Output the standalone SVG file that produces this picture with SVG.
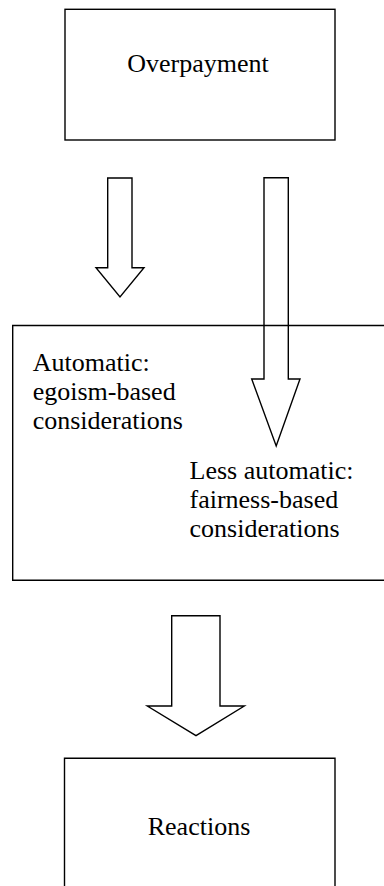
<svg xmlns="http://www.w3.org/2000/svg" width="384" height="886" viewBox="0 0 384 886">
  <style>
    .box { fill: none; stroke: #000; stroke-width: 1.4; }
    .arrow { fill: none; stroke: #000; stroke-width: 1.4; stroke-linejoin: miter; }
    .label { font-size: 26px; fill: #000; }
  </style>
  <rect x="0" y="0" width="384" height="886" fill="#fff"/>

  <g id="overpayment">
    <rect class="box" x="65" y="9.3" width="270" height="130.7"/>
    <text class="label" font-family="Liberation Serif, DejaVu Serif, serif" x="198" y="71.7" text-anchor="middle">Overpayment</text>
  </g>

  <g id="considerations">
    <path class="box" d="M390 325.5 H12.7 V580.3 H390"/>
    <text class="label" font-family="Liberation Serif, DejaVu Serif, serif" x="32.7">
      <tspan x="32.7" y="370.8">Automatic:</tspan>
      <tspan x="32.7" y="400">egoism-based</tspan>
      <tspan x="32.7" y="429.2">considerations</tspan>
    </text>
    <text class="label" font-family="Liberation Serif, DejaVu Serif, serif" x="189.5">
      <tspan x="189.5" y="478.8">Less automatic:</tspan>
      <tspan x="189.5" y="508">fairness-based</tspan>
      <tspan x="189.5" y="537.2">considerations</tspan>
    </text>
  </g>

  <g id="reactions">
    <path class="box" d="M64.5 890 V758.3 H335 V890"/>
    <text class="label" font-family="Liberation Serif, DejaVu Serif, serif" x="199" y="835" text-anchor="middle">Reactions</text>
  </g>

  <g id="connectors">
    <!-- automatic path -->
    <path class="arrow" d="M107.7 178 H132 V267.7 H144 L120 297 L96 267.7 H107.7 Z"/>
    <!-- slower path, reaching into the considerations box -->
    <path class="arrow" d="M264 177.7 H288.3 V379 H300 L276.2 446 L251.7 379 H264 Z"/>
    <!-- outcome -->
    <path class="arrow" d="M171.7 615.7 H220 V706 H244.3 L196 735.7 L147.3 706 H171.7 Z"/>
  </g>
</svg>
